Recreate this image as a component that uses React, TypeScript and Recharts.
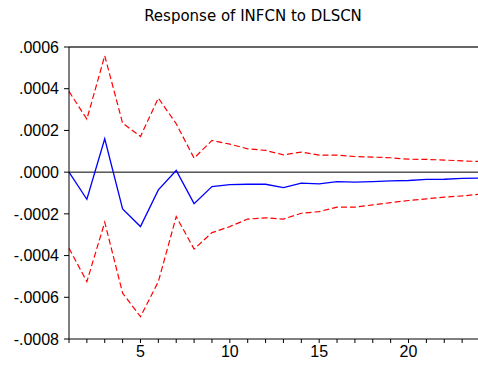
import { LineChart, Line, XAxis, YAxis, ReferenceLine } from 'recharts'

const periods = [1, 2, 3, 4, 5, 6, 7, 8, 9, 10, 11, 12, 13, 14, 15, 16, 17, 18, 19, 20, 21, 22, 23, 24]

const response = [
  0, -0.00013, 0.00016, -0.000176, -0.000261, -0.000085, 0.000008, -0.000151, -0.000069, -0.00006,
  -0.000058, -0.000058, -0.000074, -0.000053, -0.000056, -0.000045, -0.000048, -0.000045, -0.000042,
  -0.00004, -0.000035, -0.000034, -0.00003, -0.000028,
]

const upperBand = [
  0.000387, 0.000254, 0.000558, 0.000235, 0.000171, 0.000355, 0.000232, 0.000067, 0.000152, 0.000134,
  0.000112, 0.000104, 0.000083, 0.000096, 0.000082, 0.000082, 0.000075, 0.000072, 0.000069, 0.000062,
  0.000061, 0.000058, 0.000054, 0.000051,
]

const lowerBand = [
  -0.000365, -0.000525, -0.00024, -0.00058, -0.000693, -0.000525, -0.000213, -0.000369, -0.00029, -0.000261,
  -0.000225, -0.000219, -0.000225, -0.000197, -0.000189, -0.000168, -0.000168, -0.000157, -0.000146,
  -0.000136, -0.000128, -0.00012, -0.000114, -0.000106,
]

const yTicks = [-0.0008, -0.0006, -0.0004, -0.0002, 0, 0.0002, 0.0004, 0.0006]
const xLabels = [5, 10, 15, 20]

const data = periods.map((p, i) => ({
  period: p,
  resp: response[i],
  upper: upperBand[i],
  lower: lowerBand[i],
}))

const fmtY = (v: number) => v.toFixed(4).replace('0.', '.')
const fmtX = (v: number) => (xLabels.includes(v) ? String(v) : '')

const tickFont = { fill: '#000', fontSize: 16, fontFamily: '"Liberation Sans", Arial, sans-serif' }

export default function App() {
  return (
    <div
      style={{
        position: 'fixed',
        left: 0,
        top: 0,
        width: 478,
        height: 370,
        overflow: 'hidden',
        background: '#fff',
      }}
    >
      <div
        style={{
          position: 'absolute',
          left: 0,
          width: 506,
          top: 7,
          textAlign: 'center',
          fontFamily: '"DejaVu Sans", sans-serif',
          fontSize: 15,
          color: '#000',
        }}
      >
        Response of INFCN to DLSCN
      </div>
      <LineChart
        width={480}
        height={370}
        data={data}
        margin={{ top: 47, right: 0, bottom: 0, left: 0 }}
      >
        <XAxis
          dataKey="period"
          type="number"
          domain={[1, 24]}
          ticks={periods}
          tickFormatter={fmtX}
          interval={0}
          tickSize={4}
          tickMargin={3}
          stroke="#000"
          tick={tickFont}
          height={31}
        />
        <YAxis
          type="number"
          domain={[-0.0008, 0.0006]}
          ticks={yTicks}
          tickFormatter={fmtY}
          interval={0}
          width={69}
          tickSize={5}
          tickMargin={5}
          stroke="#000"
          tick={tickFont}
        />
        <ReferenceLine y={0.0006} stroke="#666" strokeWidth={2} />
        <ReferenceLine y={0} stroke="#000" strokeWidth={1} />
        <Line
          type="linear"
          dataKey="upper"
          stroke="#ff0000"
          strokeWidth={1.2}
          strokeDasharray="6 3"
          dot={false}
          isAnimationActive={false}
        />
        <Line
          type="linear"
          dataKey="lower"
          stroke="#ff0000"
          strokeWidth={1.2}
          strokeDasharray="6 3"
          dot={false}
          isAnimationActive={false}
        />
        <Line
          type="linear"
          dataKey="resp"
          stroke="#0000ff"
          strokeWidth={1.3}
          dot={false}
          isAnimationActive={false}
        />
      </LineChart>
    </div>
  )
}
